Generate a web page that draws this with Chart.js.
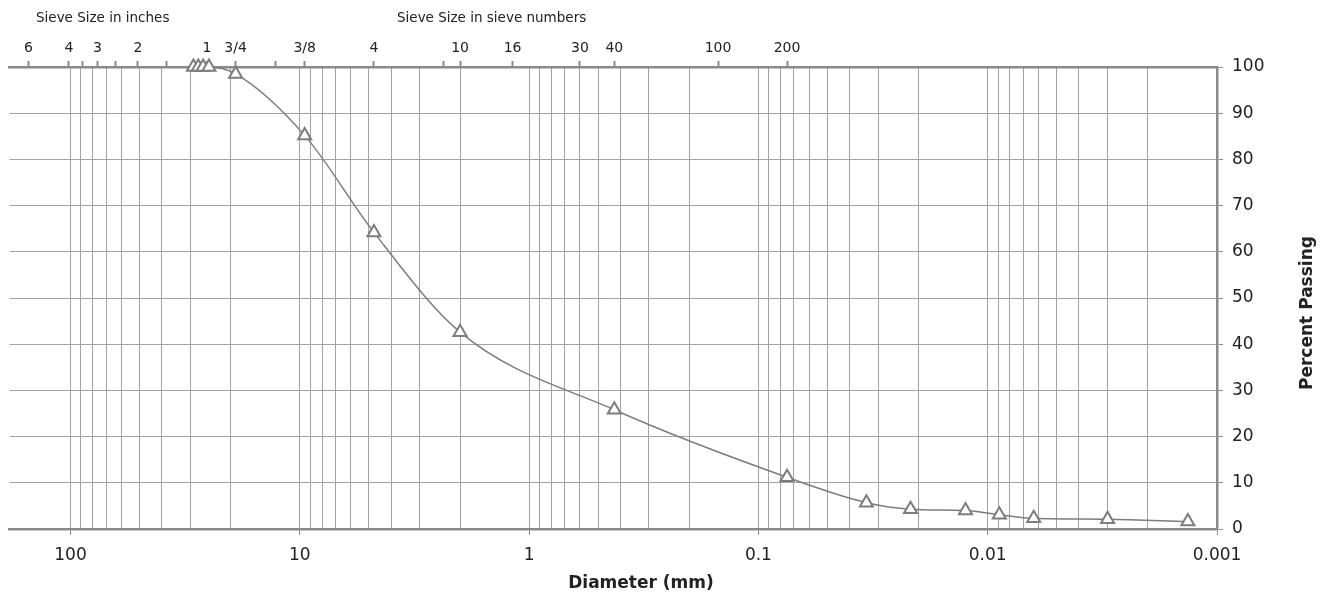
<!DOCTYPE html>
<html>
<head>
<meta charset="utf-8">
<title>Grain Size Distribution</title>
<script src="https://cdn.jsdelivr.net/npm/chart.js@4.4.1/dist/chart.umd.min.js"></script>
<style>
    body { margin: 0; background: #fff; }
    #wrap { position: relative; width: 1320px; height: 592px; }
    .lbl { position: absolute; font-family: 'DejaVu Sans', sans-serif; color: #222; white-space: nowrap; }
    .top-title { font-size: 13.5px; top: 9px; }
    .axis-title { font-size: 17px; font-weight: bold; }
</style>
</head>
<body>
<div id="wrap">
    <canvas id="gradation" width="1320" height="592"></canvas>
    <div class="lbl top-title" style="left:36px">Sieve Size in inches</div>
    <div class="lbl top-title" style="left:397px">Sieve Size in sieve numbers</div>
    <div class="lbl axis-title" style="left:641px; top:582px; transform:translate(-50%,-50%)">Diameter (mm)</div>
    <div class="lbl axis-title" style="left:1306px; top:313px; transform:translate(-50%,-50%) rotate(-90deg)">Percent Passing</div>
</div>
<script>
// Sieve / hydrometer results
const diameters = [29.1, 27.7, 26.4, 24.9, 19.05, 9.525, 4.75, 2.0, 0.425, 0.075, 0.0338, 0.0217, 0.0125, 0.0089, 0.0063, 0.0030, 0.00134];
const percentPassing = [100, 100, 100, 100, 98.5, 85.2, 64.2, 42.6, 25.8, 11.2, 5.7, 4.3, 4.0, 3.1, 2.3, 2.1, 1.6];

// top axis: sieve openings (mm) and their names
const sieveSizesMm = [152.4, 101.6, 88.9, 76.2, 63.5, 50.8, 38.1, 25.4, 19.05, 12.7, 9.525, 4.75, 2.36, 2.0, 1.18, 0.6, 0.425, 0.15, 0.075];
const sieveLabels = ['6', '4', '', '3', '', '2', '', '1', '3/4', '', '3/8', '4', '', '10', '16', '30', '40', '100', '200'];

// bottom axis: decades and the 2..9 sub-divisions
const decadeTicks = [100, 10, 1, 0.1, 0.01, 0.001];
const decadeLabels = ['100', '10', '1', '0.1', '0.01', '0.001'];
const subDivisions = [2, 3, 4, 5, 6, 7, 8, 9];

const X_MIN = 0.001;
const X_MAX = 184.5;
const GRID = '#a3a3a3';
const FRAME = '#8a8a8a';
const INK = '#222';

function diameterGrid() {
    const values = [];
    decadeTicks.forEach(d => {
        values.push(d);
        subDivisions.forEach(m => {
            const v = d * m;
            if (v <= X_MAX && d < 100) values.push(v);
        });
    });
    return values.sort((a, b) => b - a).map(v => ({ value: v }));
}

function isDecade(v) {
    return decadeTicks.some(d => Math.abs(v - d) / d < 1e-6);
}

const ctx = document.getElementById('gradation').getContext('2d');
new Chart(ctx, {
    type: 'line',
    data: {
        datasets: [{
            data: diameters.map((d, i) => ({ x: d, y: percentPassing[i] })),
            borderColor: '#7d7d7d',
            borderWidth: 1.5,
            cubicInterpolationMode: 'monotone',
            pointStyle: 'triangle',
            pointRadius: 7.5,
            pointBorderWidth: 2,
            pointBorderColor: '#7d7d7d',
            pointBackgroundColor: '#fff',
            clip: false
        }]
    },
    options: {
        responsive: false,
        animation: false,
        layout: { padding: { left: 7, right: 0, top: 0, bottom: 0 } },
        plugins: {
            legend: { display: false },
            tooltip: { enabled: false }
        },
        scales: {
            x: {
                type: 'logarithmic',
                position: 'bottom',
                reverse: true,
                min: X_MIN,
                max: X_MAX,
                afterBuildTicks: scale => { scale.ticks = diameterGrid(); },
                afterFit: scale => { scale.height = 63; },
                ticks: {
                    autoSkip: false,
                    maxRotation: 0,
                    padding: 10,
                    color: INK,
                    font: { family: 'DejaVu Sans', size: 17 },
                    callback: value => {
                        const i = decadeTicks.findIndex(d => Math.abs(value - d) / d < 1e-6);
                        return i >= 0 ? decadeLabels[i] : '';
                    }
                },
                grid: {
                    color: GRID,
                    lineWidth: 1,
                    tickLength: 6,
                    tickColor: c => (c.tick && isDecade(c.tick.value)) ? FRAME : 'rgba(0,0,0,0)'
                },
                border: { color: FRAME, width: 2.5 }
            },
            xTop: {
                type: 'logarithmic',
                position: 'top',
                reverse: true,
                min: X_MIN,
                max: X_MAX,
                afterBuildTicks: scale => { scale.ticks = sieveSizesMm.map(v => ({ value: v })); },
                afterFit: scale => { scale.height = 67; },
                ticks: {
                    autoSkip: false,
                    maxRotation: 0,
                    padding: 4,
                    color: INK,
                    font: { family: 'DejaVu Sans', size: 14 },
                    callback: (value, index) => sieveLabels[index]
                },
                grid: {
                    drawOnChartArea: false,
                    tickLength: 6,
                    tickColor: FRAME,
                    tickWidth: 2
                },
                border: { color: FRAME, width: 2.5 }
            },
            y: {
                position: 'right',
                min: 0,
                max: 100,
                afterFit: scale => { scale.width = 103; },
                ticks: {
                    stepSize: 5,
                    padding: 9,
                    color: INK,
                    font: { family: 'DejaVu Sans', size: 17 },
                    callback: value => value % 10 === 0 ? value : ''
                },
                grid: {
                    color: GRID,
                    lineWidth: 1,
                    tickLength: 6,
                    tickColor: FRAME
                },
                border: { color: FRAME, width: 2.5 }
            }
        }
    }
});
</script>
</body>
</html>
